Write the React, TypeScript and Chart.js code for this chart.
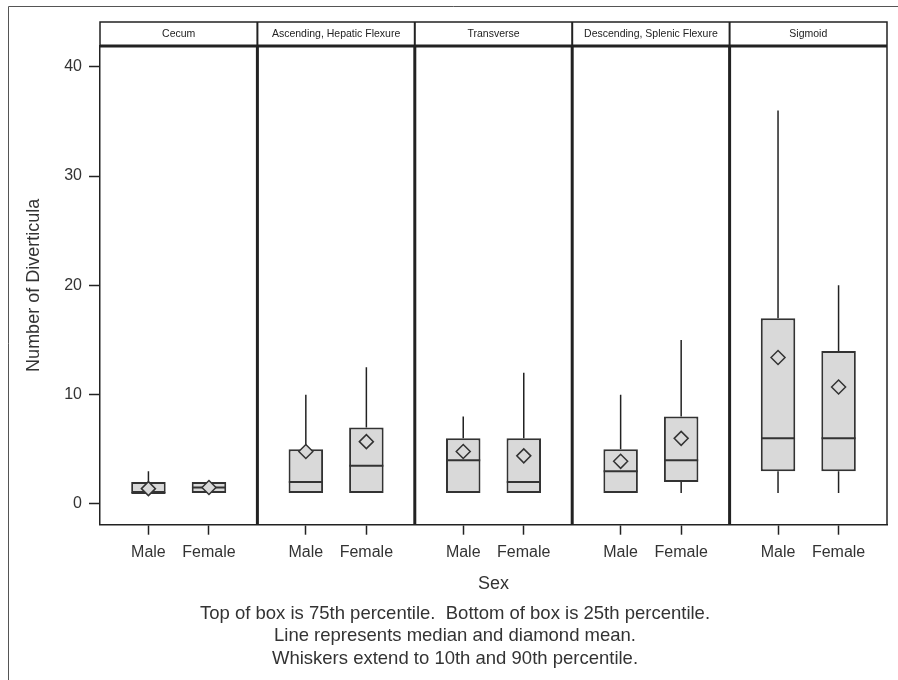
import React, { useEffect, useRef } from 'react';
import { Chart, registerables } from 'chart.js';

Chart.register(...registerables);
Chart.defaults.font.family = '"Liberation Sans", Arial, sans-serif';

// ---- data ----
const sites = ['Cecum', 'Ascending, Hepatic Flexure', 'Transverse', 'Descending, Splenic Flexure', 'Sigmoid'];
const sexes = ['Male', 'Female'];
// each row: [Male, Female]
const p10 = [[1, 1], [1, 1], [1, 1], [1, 1], [1, 1]];
const q1 = [[1, 1], [1, 1], [1, 1], [1, 2], [3, 3]];
const medians = [[1, 1.5], [2, 3.5], [4, 2], [3, 4], [6, 6]];
const q3 = [[2, 2], [5, 7], [6, 6], [5, 8], [17, 14]];
const p90 = [[3, 2], [10, 12.5], [8, 12], [10, 15], [36, 20]];
const means = [[1.4, 1.5], [4.8, 5.7], [4.8, 4.4], [3.9, 6.0], [13.4, 10.7]];
const yTicks = [0, 10, 20, 30, 40];
const yTitle = 'Number of Diverticula';
const xTitle = 'Sex';
const footnotes = [
  'Top of box is 75th percentile.  Bottom of box is 25th percentile.',
  'Line represents median and diamond mean.',
  'Whiskers extend to 10th and 90th percentile.',
];

// ---- layout constants ----
const SPAN = 2.6; // x-units per panel
const PAD = 0.8; // x-units from panel edge to first category
const TEXT = '#333';
const LINE = '#222';
const FILL = '#d9d9d9';

const panelPlugin = {
  id: 'panels',
  afterDraw(chart: any) {
    const { ctx, chartArea: a, scales } = chart;
    const x = scales.x;
    const stripTop = 22;
    ctx.save();
    // outer frame (left and top)
    ctx.strokeStyle = '#555';
    ctx.lineWidth = 1;
    ctx.beginPath();
    ctx.moveTo(8.5, 680);
    ctx.lineTo(8.5, 6.5);
    ctx.lineTo(898, 6.5);
    ctx.stroke();
    // strip outline + right border
    ctx.strokeStyle = LINE;
    ctx.lineWidth = 1.5;
    ctx.beginPath();
    ctx.moveTo(a.left, a.top);
    ctx.lineTo(a.left, stripTop);
    ctx.lineTo(a.right, stripTop);
    ctx.lineTo(a.right, a.bottom);
    ctx.stroke();
    // strip bottom (thick)
    ctx.lineWidth = 3;
    ctx.beginPath();
    ctx.moveTo(a.left, a.top);
    ctx.lineTo(a.right, a.top);
    ctx.stroke();
    // dividers
    for (let s = 1; s < sites.length; s++) {
      const px = x.getPixelForValue(s * SPAN - PAD);
      ctx.lineWidth = 2;
      ctx.beginPath();
      ctx.moveTo(px, stripTop);
      ctx.lineTo(px, a.top);
      ctx.stroke();
      ctx.lineWidth = 3;
      ctx.beginPath();
      ctx.moveTo(px, a.top);
      ctx.lineTo(px, a.bottom);
      ctx.stroke();
    }
    // strip labels
    ctx.fillStyle = '#222';
    ctx.font = '10.5px "Liberation Sans", Arial, sans-serif';
    ctx.textAlign = 'center';
    ctx.textBaseline = 'middle';
    sites.forEach((site, s) => {
      const l = x.getPixelForValue(s * SPAN - PAD);
      const r = x.getPixelForValue((s + 1) * SPAN - PAD);
      ctx.fillText(site, (l + r) / 2, (stripTop + a.top) / 2);
    });
    ctx.restore();
  },
};

export default function App() {
  const ref = useRef<HTMLCanvasElement>(null);

  useEffect(() => {
    if (!ref.current) return;
    const groups: { x: number; s: number; k: number }[] = [];
    sites.forEach((_, s) => sexes.forEach((__, k) => groups.push({ x: s * SPAN + k, s, k })));

    const boxData = groups.map((g) => ({ x: g.x, y: [q1[g.s][g.k], q3[g.s][g.k]] }));
    const whiskerData: any[] = [];
    groups.forEach((g) => {
      whiskerData.push(
        { x: g.x, y: p10[g.s][g.k] },
        { x: g.x, y: q1[g.s][g.k] },
        { x: g.x, y: null },
        { x: g.x, y: q3[g.s][g.k] },
        { x: g.x, y: p90[g.s][g.k] },
        { x: g.x, y: null }
      );
    });
    const medianData = groups.map((g) => ({ x: g.x, y: medians[g.s][g.k] }));
    const meanData = groups.map((g) => ({ x: g.x, y: means[g.s][g.k] }));

    const chart = new Chart(ref.current, {
      type: 'bar',
      data: {
        datasets: [
          {
            type: 'bar',
            data: boxData as any,
            backgroundColor: FILL,
            borderColor: TEXT,
            borderWidth: 2,
            borderSkipped: false,
            categoryPercentage: 1,
            barPercentage: 0.57,
            order: 4,
          } as any,
          {
            type: 'line',
            data: whiskerData,
            borderColor: LINE,
            borderWidth: 1.5,
            pointRadius: 0,
            spanGaps: false,
            fill: false,
            order: 3,
          } as any,
          {
            type: 'scatter',
            data: medianData,
            pointStyle: 'line',
            pointRadius: 17,
            pointBorderWidth: 2,
            pointBorderColor: TEXT,
            order: 2,
          } as any,
          {
            type: 'scatter',
            data: meanData,
            pointStyle: 'rectRot',
            pointRadius: 7,
            pointBackgroundColor: FILL,
            pointBorderColor: TEXT,
            pointBorderWidth: 1.5,
            order: 1,
          } as any,
        ],
      },
      options: {
        responsive: false,
        animation: false,
        events: [],
        layout: { autoPadding: false, padding: { left: 23, right: 11, top: 46, bottom: 0 } },
        plugins: {
          legend: { display: false },
          tooltip: { enabled: false },
          title: {
            display: true,
            position: 'bottom',
            text: footnotes,
            color: TEXT,
            font: { size: 18.5, weight: 'normal', lineHeight: 1.216 },
            padding: { top: 2, bottom: 10 },
          },
        },
        scales: {
          x: {
            type: 'linear',
            offset: false,
            min: -PAD,
            max: sites.length * SPAN - PAD,
            afterBuildTicks: (scale: any) => {
              scale.ticks = groups.map((g) => ({ value: g.x }));
            },
            afterFit: (scale: any) => {
              scale.height = 75.8;
              scale.paddingLeft = 0;
              scale.paddingRight = 0;
            },
            ticks: {
              autoSkip: false,
              maxRotation: 0,
              padding: 8.5,
              color: TEXT,
              font: { size: 16 },
              callback: (_v: any, i: number) => sexes[i % sexes.length],
            },
            grid: { display: true, offset: false, drawOnChartArea: false, drawTicks: true, tickLength: 10, tickColor: LINE, tickWidth: 1.5 },
            border: { display: true, color: LINE, width: 1.5 },
            title: { display: true, text: xTitle, color: TEXT, font: { size: 18 }, padding: { top: 0, bottom: 6 } },
          },
          y: {
            type: 'linear',
            min: -1.9,
            max: 41.9,
            afterBuildTicks: (scale: any) => {
              scale.ticks = yTicks.map((v) => ({ value: v }));
            },
            afterFit: (scale: any) => {
              scale.width = 77;
              scale.paddingTop = 0;
              scale.paddingBottom = 0;
            },
            ticks: { padding: 7, color: TEXT, font: { size: 16 } },
            grid: { display: true, drawOnChartArea: false, drawTicks: true, tickLength: 11, tickColor: LINE, tickWidth: 1.5 },
            border: { display: true, color: LINE, width: 1.5 },
            title: { display: true, text: yTitle, color: TEXT, font: { size: 18 }, padding: { top: 0, bottom: 0 } },
          },
        },
      } as any,
      plugins: [panelPlugin],
    });
    return () => chart.destroy();
  }, []);

  return (
    <div style={{ position: 'absolute', left: 0, top: 0, width: 898, height: 680, background: '#fff' }}>
      <canvas ref={ref} width={898} height={680} style={{ display: 'block' }} />
    </div>
  );
}
